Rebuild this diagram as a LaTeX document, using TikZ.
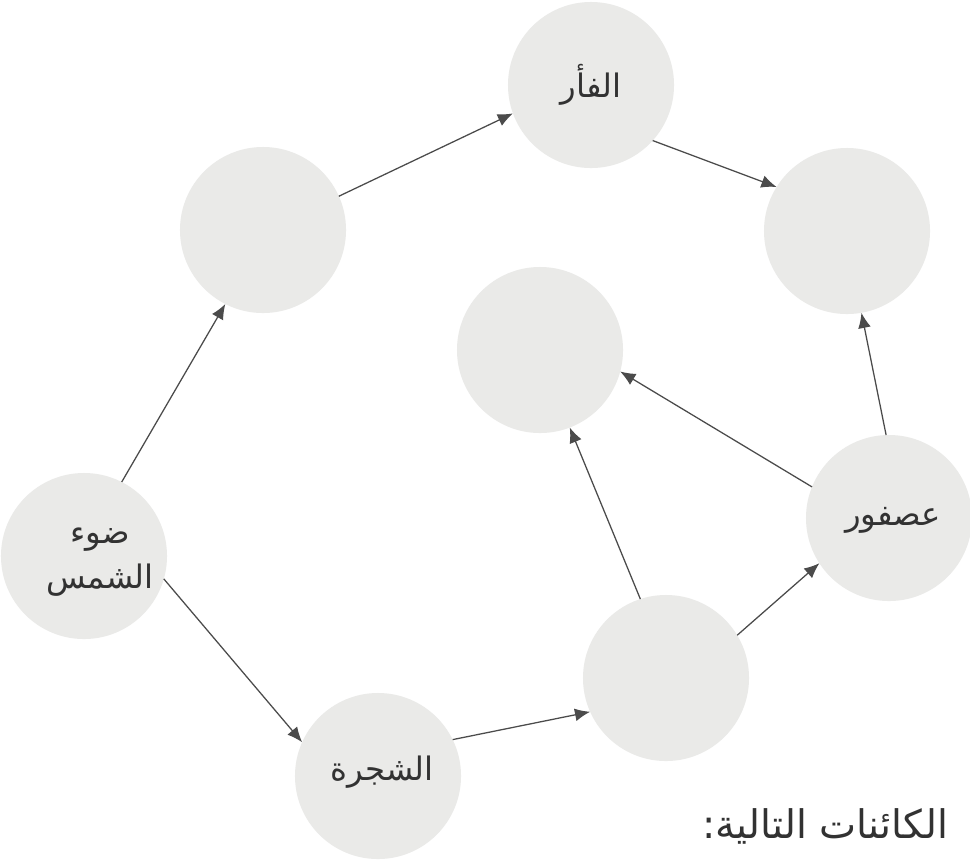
\documentclass[tikz,border=0pt]{standalone}
\usepackage{fontspec}
\usetikzlibrary{arrows.meta}
\newfontfamily\arabicfont[Script=Arabic]{DejaVu Sans}
\TeXXeTstate=1
\definecolor{discfill}{RGB}{234,234,232}
\definecolor{linkcol}{RGB}{75,75,75}
\definecolor{txtcol}{RGB}{50,50,50}
\tikzset{
  disc/.style={circle, fill=discfill, draw=none, minimum size=4.15cm, inner sep=0pt, outer sep=0pt},
  lbl/.style={text=txtcol, font=\arabicfont\fontsize{23}{32}\selectfont, align=center, inner sep=0pt},
  bigtxt/.style={text=txtcol, font=\arabicfont\fontsize{28}{34}\selectfont, inner sep=0pt},
  link/.style={draw=linkcol, line width=0.9pt, -{Latex[length=3.8mm,width=3.2mm]}}
}
\begin{document}
\begin{tikzpicture}[x=0.025cm, y=-0.025cm]
\clip (0,0) rectangle (970,864);
\fill[white] (0,0) rectangle (970,864);
% circles
\node[disc] (mouse) at (591,85) {};
\node[disc] (ul) at (263,230) {};
\node[disc] (rt) at (847,231) {};
\node[disc] (mid) at (540,350) {};
\node[disc] (sun) at (84,556) {};
\node[disc] (sp) at (889,518) {};
\node[disc] (bm) at (666,678) {};
\node[disc] (tree) at (378,776) {};
% labels
\node[lbl] (tmouse) at (591,85) {\beginR الفأر\endR};
\node[lbl] (tsun) at (100,562) {\beginR ضوء\endR\\\beginR الشمس\endR};
\node[lbl] (tsp) at (893,520) {\beginR عصفور\endR};
\node[lbl] (ttree) at (382,772) {\beginR الشجرة\endR};
\node[bigtxt, anchor=west] (tbottom) at (702,826) {\beginR الكائنات التالية:\endR};
% connectors
\draw[link] (sun.63) -- (ul.-117);
\draw[link] (ul.24) -- (mouse.200);
\draw[link] (mouse.-42) -- (rt.148);
\draw[link] (sun.-16) -- (tree.156);
\draw[link] (tree.26) -- (bm.204);
\draw[link] (bm.31) -- (sp.-147);
\draw[link] (bm.108) -- (mid.-69);
\draw[link] (sp.158) -- (mid.-15);
\draw[link] (sp.92) -- (rt.-80);
\end{tikzpicture}
\end{document}
